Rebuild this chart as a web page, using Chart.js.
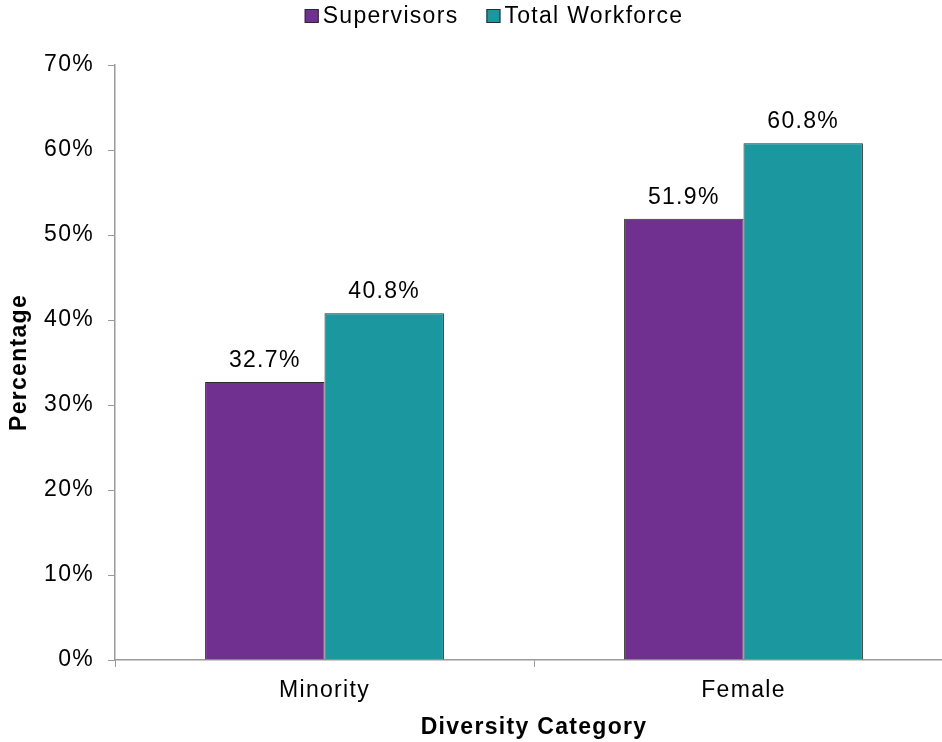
<!DOCTYPE html>
<html>
<head>
<meta charset="utf-8">
<script src="https://cdn.jsdelivr.net/npm/chart.js@4.4.0/dist/chart.umd.min.js"></script>
<style>
  html, body { margin: 0; padding: 0; background: #fff; overflow: hidden; }
  #wrap { width: 975px; height: 742px; }
</style>
</head>
<body>
<div id="wrap"><canvas id="diversityChart" width="975" height="742"></canvas></div>
<script>
// chart values
const categories = ['Minority', 'Female'];
const supervisors = [32.7, 51.9];
const totalWorkforce = [40.8, 60.8];
const yTicks = [0, 10, 20, 30, 40, 50, 60, 70];

const purple = '#70308F';
const teal = '#1B979F';
const axisGray = '#9a9a9a';
const FONT = '"Liberation Sans", Arial, sans-serif';
const SPACING = '1.3px';

// <------------ slightly wider text, like the original ------------->
const textSpacing = {
  id: 'textSpacing',
  beforeDraw(chart) {
    chart.ctx.letterSpacing = SPACING;
  }
};

// <------------ value labels above bars ------------->
const barLabels = {
  id: 'barLabels',
  afterDatasetsDraw(chart) {
    const ctx = chart.ctx;
    ctx.save();
    ctx.letterSpacing = SPACING;
    ctx.font = '23px ' + FONT;
    ctx.fillStyle = '#000';
    ctx.textAlign = 'center';
    ctx.textBaseline = 'alphabetic';
    chart.data.datasets.forEach((ds, i) => {
      chart.getDatasetMeta(i).data.forEach((bar, j) => {
        ctx.fillText(ds.data[j].toFixed(1) + '%', bar.x, bar.y - 15);
      });
    });
    ctx.restore();
  }
};

// <------------ legend drawn by hand (tight box/text gap) ------------->
const topLegend = {
  id: 'topLegend',
  afterDraw(chart) {
    const ctx = chart.ctx;
    const items = chart.data.datasets.map(ds => ({ text: ds.label, color: ds.backgroundColor }));
    ctx.save();
    ctx.letterSpacing = SPACING;
    ctx.font = '23px ' + FONT;
    const box = 14, gap = 4, spacing = 28;
    const widths = items.map(it => box + gap + ctx.measureText(it.text).width);
    const total = widths.reduce((a, b) => a + b, 0) + spacing * (items.length - 1);
    let x = 494 - total / 2;
    const y = 16;
    ctx.textBaseline = 'middle';
    ctx.textAlign = 'left';
    items.forEach((it, k) => {
      ctx.fillStyle = it.color;
      ctx.fillRect(x, y - box / 2, box, box);
      ctx.strokeStyle = '#2b2b2b';
      ctx.lineWidth = 1;
      ctx.strokeRect(x + 0.5, y - box / 2 + 0.5, box - 1, box - 1);
      ctx.fillStyle = '#000';
      ctx.fillText(it.text, x + box + gap, y + 1);
      x += widths[k] + spacing;
    });
    ctx.restore();
  }
};

const ctx = document.getElementById('diversityChart').getContext('2d');

const config = {
  type: 'bar',
  data: {
    labels: categories,
    datasets: [{
      label: 'Supervisors',
      data: supervisors,
      backgroundColor: purple,
      borderColor: '#2b2b2b',
      borderWidth: 1
    }, {
      label: 'Total Workforce',
      data: totalWorkforce,
      backgroundColor: teal,
      borderColor: '#2b2b2b',
      borderWidth: 1
    }]
  },
  options: {
    responsive: false,
    animation: false,
    categoryPercentage: 0.57,
    barPercentage: 1.0,
    layout: {
      padding: { left: 0, right: 22, top: 65, bottom: 0 }
    },
    plugins: {
      tooltip: { enabled: false },
      legend: { display: false }
    },
    scales: {
      x: {
        afterFit: axis => { axis.height = 82; },
        grid: {
          offset: true,
          drawOnChartArea: false,
          drawTicks: true,
          tickLength: 7,
          color: axisGray
        },
        border: { color: axisGray, width: 1.5 },
        ticks: {
          font: { family: FONT, size: 23 },
          color: '#000',
          padding: 10
        },
        title: {
          display: true,
          text: 'Diversity Category',
          font: { family: FONT, size: 23, weight: 'bold' },
          color: '#000',
          padding: { top: 1, bottom: 1 }
        }
      },
      y: {
        min: 0,
        max: 70,
        afterFit: axis => { axis.width = 115; },
        afterBuildTicks: axis => { axis.ticks = yTicks.map(v => ({ value: v })); },
        grid: {
          drawOnChartArea: false,
          drawTicks: true,
          tickLength: 7,
          color: axisGray
        },
        border: { color: axisGray, width: 1.5 },
        ticks: {
          font: { family: FONT, size: 23 },
          color: '#000',
          padding: 14,
          callback: v => v + '%'
        },
        title: {
          display: true,
          text: 'Percentage',
          font: { family: FONT, size: 23, weight: 'bold' },
          color: '#000',
          padding: { top: 6, bottom: 4 }
        }
      }
    }
  },
  plugins: [textSpacing, barLabels, topLegend]
};

const diversityChart = new Chart(ctx, config);
</script>
</body>
</html>
